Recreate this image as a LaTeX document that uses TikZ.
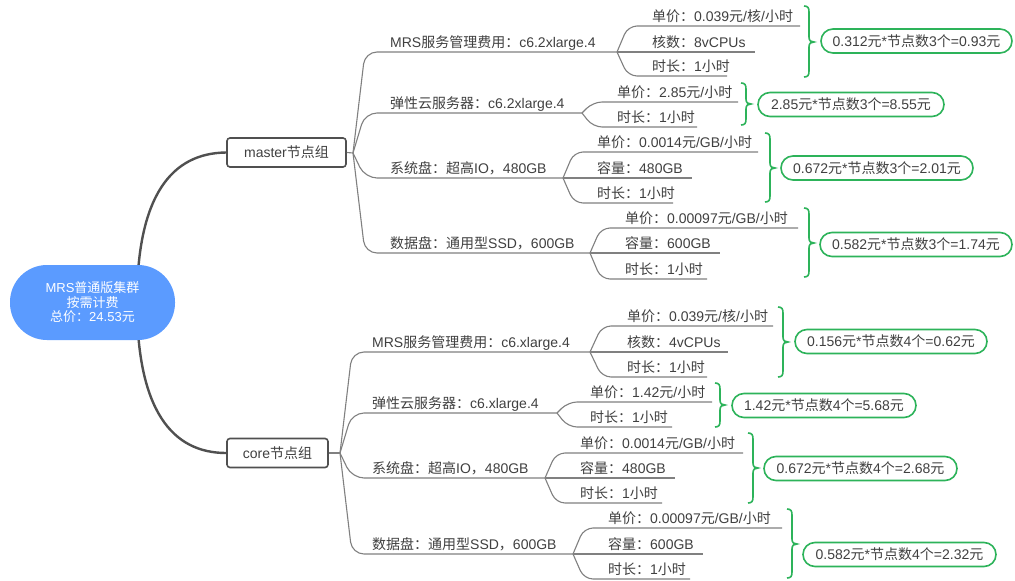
\documentclass[tikz,border=0pt]{standalone}
\usepackage{fontspec}
\setmainfont{Liberation Sans}
\newfontfamily\cjkfont{Noto Sans CJK SC}
\XeTeXinterchartokenstate=1
\newXeTeXintercharclass\CJKcls
\newcount\cjkcnt
\cjkcnt="4E00
\loop
  \XeTeXcharclass\cjkcnt=\CJKcls
  \advance\cjkcnt by 1
\ifnum\cjkcnt<"A000 \repeat
\cjkcnt="FF00
\loop
  \XeTeXcharclass\cjkcnt=\CJKcls
  \advance\cjkcnt by 1
\ifnum\cjkcnt<"FF20 \repeat
\cjkcnt="3000
\loop
  \XeTeXcharclass\cjkcnt=\CJKcls
  \advance\cjkcnt by 1
\ifnum\cjkcnt<"3040 \repeat
\XeTeXinterchartoks 0 \CJKcls = {\begingroup\cjkfont}
\XeTeXinterchartoks 4095 \CJKcls = {\begingroup\cjkfont}
\XeTeXinterchartoks \CJKcls 0 = {\endgroup}
\XeTeXinterchartoks \CJKcls 4095 = {\endgroup}
\definecolor{txt}{HTML}{404040}
\definecolor{linec}{HTML}{808080}
\definecolor{thickc}{HTML}{505050}
\definecolor{grn}{HTML}{2DB35A}
\definecolor{rootblue}{HTML}{5B9BFF}
\tikzset{
  every node/.style={font=\fontsize{14}{16}\selectfont, text=txt, inner sep=0pt},
  leaf/.style={anchor=base west},
  thinline/.style={draw=linec, line width=1.1pt, rounded corners=9pt},
  brline/.style={draw=linec, line width=1.1pt, rounded corners=12pt},
  thickline/.style={draw=thickc, line width=2.4pt},
  grp/.style={draw=thickc, line width=1.6pt, fill=white, rounded corners=3pt, minimum height=29pt, font=\fontsize{14}{16}\selectfont},
  root/.style={fill=rootblue, text=white, minimum width=165pt, minimum height=75pt, rounded corners=37pt, align=center, font=\fontsize{13}{14.5}\selectfont},
  resbox/.style={draw=grn, line width=1.6pt, rounded corners=12pt, minimum height=24pt},
  brc/.style={draw=grn, line width=1.6pt}
}
% name, junction coordinate, corner x, text x, y, end x, text
\newcommand\gleaf[7]{%
  \node[leaf] (#1) at (#4,#5-5) {#7};
  \draw[thinline] (#2) -- (#3,#5) -- (#6,#5);}
% name, junction coordinate, corner x, text x, y, end x, text
\newcommand\gchild[7]{%
  \node[leaf] (#1) at (#4,#5-5) {#7};
  \draw[brline] (#2) -- (#3,#5) -- (#6,#5);}
% x0, ytop, ybot, ytip
\newcommand\mybrace[4]{%
  \draw[brc] (#1,#2) .. controls (#1+4,#2) and (#1+5,#2+2) .. (#1+5,#2+6)
    -- (#1+5,#4-5) .. controls (#1+5,#4-1) and (#1+7,#4) .. (#1+10,#4)
    .. controls (#1+7,#4) and (#1+5,#4+1) .. (#1+5,#4+5)
    -- (#1+5,#3-6) .. controls (#1+5,#3-2) and (#1+4,#3) .. (#1,#3);}
\begin{document}
\begin{tikzpicture}[x=1pt,y=-1pt]
\useasboundingbox (0,0) rectangle (1015,581);
\fill[white] (0,0) rectangle (1015,581);

% group nodes
\node[grp, minimum width=119pt] (master) at (286.5,152.5) {master节点组};
\node[grp, minimum width=101pt] (core) at (277.5,453) {core节点组};

% root connectors
\coordinate (rj) at (137,302);
\draw[thickline] (rj) .. controls (137,195) and (172,153) .. (master.west);
\draw[thickline] (rj) .. controls (137,410) and (172,453) .. (core.west);
\node[root] (root) at (92.5,302.5) {MRS普通版集群\\按需计费\\总价：24.53元};

% ===== master =====
\coordinate (mj) at (353,153);
\draw[thinline] (master.east) -- (mj);
\gchild{mc1}{mj}{365}{390}{52}{617}{MRS服务管理费用：c6.2xlarge.4}
\gchild{mc2}{mj}{365}{390}{113}{582}{弹性云服务器：c6.2xlarge.4}
\gchild{mc3}{mj}{365}{390}{178}{563}{系统盘：超高IO，480GB}
\gchild{mc4}{mj}{365}{390}{253}{590}{数据盘：通用型SSD，600GB}

\coordinate (mj1) at (617,52);
\gleaf{m11}{mj1}{628}{652}{26}{800}{单价：0.039元/核/小时}
\gleaf{m12}{mj1}{628}{652}{52}{755}{核数：8vCPUs}
\gleaf{m13}{mj1}{628}{652}{76}{727}{时长：1小时}
\coordinate (mj2) at (582,113);
\gleaf{m21}{mj2}{593}{617}{102}{738}{单价：2.85元/小时}
\gleaf{m22}{mj2}{593}{617}{127}{697}{时长：1小时}
\coordinate (mj3) at (563,178);
\gleaf{m31}{mj3}{574}{597}{152}{758}{单价：0.0014元/GB/小时}
\gleaf{m32}{mj3}{574}{597}{178}{692}{容量：480GB}
\gleaf{m33}{mj3}{574}{597}{203}{673}{时长：1小时}
\coordinate (mj4) at (590,253);
\gleaf{m41}{mj4}{601}{625}{228}{798}{单价：0.00097元/GB/小时}
\gleaf{m42}{mj4}{601}{625}{253}{720}{容量：600GB}
\gleaf{m43}{mj4}{601}{625}{279}{707}{时长：1小时}

\mybrace{804}{6}{77}{42}
\mybrace{741}{83}{125}{104}
\mybrace{765}{133}{202}{168}
\mybrace{804}{208}{277}{243}
\node[resbox, minimum width=191pt] (mr1) at (916.5,41) {0.312元*节点数3个=0.93元};
\node[resbox, minimum width=186pt] (mr2) at (851,104.5) {2.85元*节点数3个=8.55元};
\node[resbox, minimum width=192pt] (mr3) at (877,168) {0.672元*节点数3个=2.01元};
\node[resbox, minimum width=192pt] (mr4) at (916,244.5) {0.582元*节点数3个=1.74元};

% ===== core =====
\coordinate (cj) at (340,453);
\draw[thinline] (core.east) -- (cj);
\gchild{cc1}{cj}{352}{372}{352}{590}{MRS服务管理费用：c6.xlarge.4}
\gchild{cc2}{cj}{352}{372}{413}{557}{弹性云服务器：c6.xlarge.4}
\gchild{cc3}{cj}{352}{372}{478}{545}{系统盘：超高IO，480GB}
\gchild{cc4}{cj}{352}{372}{554}{573}{数据盘：通用型SSD，600GB}

\coordinate (cj1) at (590,352);
\gleaf{c11}{cj1}{602}{627}{326}{773}{单价：0.039元/核/小时}
\gleaf{c12}{cj1}{602}{627}{352}{728}{核数：4vCPUs}
\gleaf{c13}{cj1}{602}{627}{377}{707}{时长：1小时}
\coordinate (cj2) at (557,413);
\gleaf{c21}{cj2}{568}{590}{402}{712}{单价：1.42元/小时}
\gleaf{c22}{cj2}{568}{590}{427}{672}{时长：1小时}
\coordinate (cj3) at (545,478);
\gleaf{c31}{cj3}{556}{580}{453}{743}{单价：0.0014元/GB/小时}
\gleaf{c32}{cj3}{556}{580}{478}{675}{容量：480GB}
\gleaf{c33}{cj3}{556}{580}{503}{662}{时长：1小时}
\coordinate (cj4) at (573,554);
\gleaf{c41}{cj4}{584}{608}{528}{782}{单价：0.00097元/GB/小时}
\gleaf{c42}{cj4}{584}{608}{554}{703}{容量：600GB}
\gleaf{c43}{cj4}{584}{608}{579}{690}{时长：1小时}

\mybrace{778}{307}{377}{342}
\mybrace{715}{383}{427}{405}
\mybrace{748}{433}{503}{468}
\mybrace{787}{509}{578}{544}
\node[resbox, minimum width=192pt] (cr1) at (891,341.5) {0.156元*节点数4个=0.62元};
\node[resbox, minimum width=184pt] (cr2) at (824,405.5) {1.42元*节点数4个=5.68元};
\node[resbox, minimum width=193pt] (cr3) at (860.5,468.5) {0.672元*节点数4个=2.68元};
\node[resbox, minimum width=193pt] (cr4) at (899.5,554.5) {0.582元*节点数4个=2.32元};
\end{tikzpicture}
\end{document}
